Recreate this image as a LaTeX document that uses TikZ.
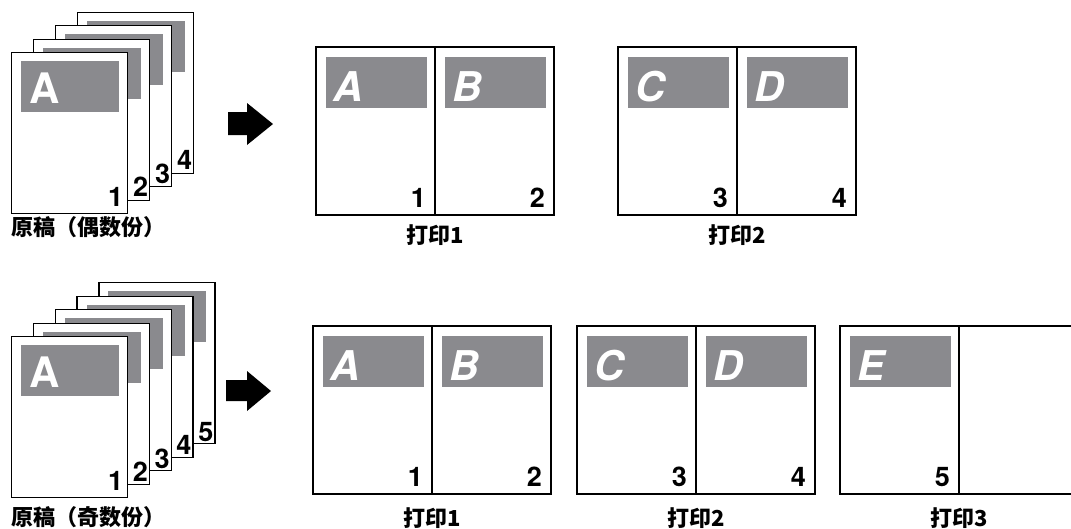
\documentclass[tikz,border=0pt]{standalone}
\usepackage{fontspec}
\usepackage{tikz}
\usetikzlibrary{positioning}
\newfontfamily\cjk{Noto Sans CJK SC}
\newfontfamily\heros{TeX Gyre Heros}
\definecolor{bargray}{RGB}{138,138,142}

\tikzset{
  page/.style={draw, fill=white, line width=1.3pt, inner sep=0pt, minimum width=116pt, minimum height=161pt, anchor=north west},
  half/.style={draw, fill=white, line width=1.3pt, inner sep=0pt, outer sep=0pt, minimum width=119pt, minimum height=168pt, anchor=north west},
  bar/.style={fill=bargray, inner sep=0pt, minimum width=98pt, minimum height=51pt, anchor=north west},
  pbar/.style={bar, minimum width=101pt},
  bigletter/.style={font=\heros\bfseries\fontsize{42}{42}\selectfont, text=white, inner sep=0pt, anchor=base west},
  slantletter/.style={font=\heros\bfseries\itshape\fontsize{41}{41}\selectfont, text=white, inner sep=0pt, anchor=base west},
  pagenum/.style={font=\heros\bfseries\fontsize{27}{27}\selectfont, inner sep=0pt, anchor=base east},
  caption/.style={font=\cjk\bfseries\fontsize{22}{22}\selectfont, inner sep=0pt}
}

\begin{document}
\begin{tikzpicture}[x=1pt, y=-1pt]
    \useasboundingbox (0,0) rectangle (1071,528);
    \clip (0,0) rectangle (1071,528);

    % even original, back pages first
    \foreach \n/\i in {4/3,3/2,2/1} {
        \node[page] (even\n) at (11+22*\i, 52-13.5*\i) {};
        \node[bar] (evenbar\n) at ([shift={(10,9)}]even\n.north west) {};
        \node[pagenum] (evennum\n) at ([shift={(-2,-4)}]even\n.south east) {\n};
    }
    \node[page] (even1) at (11,52) {};
    \node[bar] (evenbar1) at ([shift={(10,9)}]even1.north west) {};
    \node[bigletter] (evenA) at ([shift={(8,42)}]evenbar1.north west) {A};
    \node[pagenum] (evennum1) at ([shift={(-5,-8)}]even1.south east) {1};
    \node[caption, anchor=west] (evencap) at (11,227.5) {原稿（偶数份）};

    % odd original
    \foreach \n/\i in {5/4,4/3,3/2,2/1} {
        \node[page] (odd\n) at (11+21.8*\i, 336-13.5*\i) {};
        \node[bar] (oddbar\n) at ([shift={(10,9)}]odd\n.north west) {};
        \node[pagenum] (oddnum\n) at ([shift={(-2,-3)}]odd\n.south east) {\n};
    }
    \node[page] (odd1) at (11,336) {};
    \node[bar] (oddbar1) at ([shift={(10,9)}]odd1.north west) {};
    \node[bigletter] (oddA) at ([shift={(8,42)}]oddbar1.north west) {A};
    \node[pagenum] (oddnum1) at ([shift={(-5,-8)}]odd1.south east) {1};
    \node[caption, anchor=west] (oddcap) at (11,517) {原稿（奇数份）};

    % arrows
    \fill (228,112) -- (247,112) -- (247,103) -- (273,124) -- (247,145) -- (247,135) -- (228,135) -- cycle;
    \fill (226,380) -- (247,380) -- (247,371) -- (271,391) -- (247,411) -- (247,401) -- (226,401) -- cycle;

    % printed sheets
    \foreach \nm/\px/\py/\la/\lb/\na/\nb/\cap/\cy in {top1/316/47/A/B/1/2/打印1/20, top2/618/47/C/D/3/4/打印2/20, bot1/313/326/A/B/1/2/打印1/24, bot2/577/326/C/D/3/4/打印2/24} {
        \node[half] (\nm-l) at (\px,\py) {};
        \node[half, right=0pt of \nm-l] (\nm-r) {};
        \node[pbar] (\nm-lbar) at ([shift={(9.5,10)}]\nm-l.north west) {};
        \node[pbar] (\nm-rbar) at ([shift={(9.5,10)}]\nm-r.north west) {};
        \node[slantletter] (\nm-la) at ([shift={(8,44)}]\nm-lbar.north west) {\la};
        \node[slantletter] (\nm-lb) at ([shift={(8,44)}]\nm-rbar.north west) {\lb};
        \node[pagenum] (\nm-na) at ([shift={(-9,-8)}]\nm-l.south east) {\na};
        \node[pagenum] (\nm-nb) at ([shift={(-9,-8)}]\nm-r.south east) {\nb};
        \node[caption] (\nm-cap) at ([shift={(0,\cy)}]\nm-l.south east) {\cap};
    }
    \node[half] (bot3-l) at (840,326) {};
    \node[half, right=0pt of bot3-l] (bot3-r) {};
    \node[pbar] (bot3-lbar) at ([shift={(9.5,10)}]bot3-l.north west) {};
    \node[slantletter] (bot3-la) at ([shift={(8,44)}]bot3-lbar.north west) {E};
    \node[pagenum] (bot3-na) at ([shift={(-9,-8)}]bot3-l.south east) {5};
    \node[caption] (bot3-cap) at ([shift={(0,24)}]bot3-l.south east) {打印3};
\end{tikzpicture}
\end{document}
